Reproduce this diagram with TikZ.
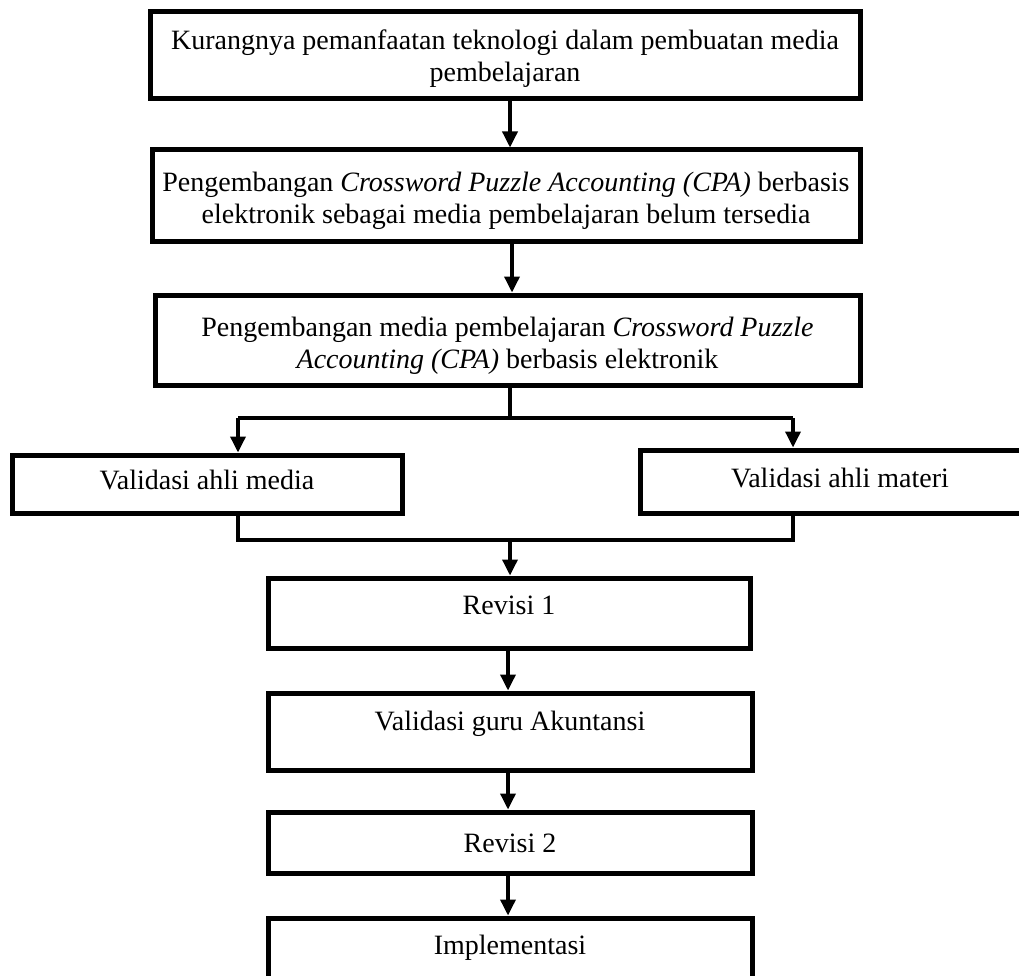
\documentclass[tikz,border=0pt]{standalone}
\usepackage{fontspec}
\setmainfont{Liberation Serif}
\usetikzlibrary{arrows.meta,calc}
\begin{document}
\begin{tikzpicture}[x=1pt,y=-1pt,
  box/.style={draw, line width=5pt, inner sep=0pt, align=center,
    font=\fontsize{28}{32}\selectfont},
  onebox/.style={box, text height=25pt},
  conn/.style={line width=3.5pt},
  arr/.style={line width=3.5pt, -{Triangle[width=15pt,length=16pt]}}]
\useasboundingbox (0,0) rectangle (1019,976);
\fill[white] (0,0) rectangle (1019,976);

\node[box, minimum width=710pt, minimum height=87pt, text height=57pt] (b1) at (505,55.5)
  {Kurangnya pemanfaatan teknologi dalam pembuatan media\\pembelajaran};
\node[box, minimum width=708pt, minimum height=92pt, text height=61pt] (b2) at (506,196)
  {Pengembangan \textit{Crossword Puzzle Accounting (CPA)} berbasis\\elektronik sebagai media pembelajaran belum tersedia};
\node[box, minimum width=705pt, minimum height=90pt, text height=62pt] (b3) at (507.5,340)
  {Pengembangan media pembelajaran \textit{Crossword Puzzle}\\\textit{Accounting (CPA)} berbasis elektronik};
\node[onebox, minimum width=390pt, minimum height=58pt, text depth=14pt] (vl) at (207,484)
  {Validasi ahli media};
\node[onebox, minimum width=400pt, minimum height=63pt, text depth=13pt] (vr) at (840,481.5)
  {Validasi ahli materi};
\node[onebox, minimum width=482pt, minimum height=70pt, text depth=22pt] (r1) at (509,613)
  {Revisi 1};
\node[onebox, minimum width=484pt, minimum height=77pt, text depth=28pt] (vg) at (510,731.5)
  {Validasi guru Akuntansi};
\node[onebox, minimum width=484pt, minimum height=61pt, text depth=6pt] (r2) at (510,842.5)
  {Revisi 2};
\node[onebox, minimum width=484pt, minimum height=82pt, text depth=34pt] (im) at (510,959)
  {Implementasi};

\coordinate (sp) at (510,418);
\coordinate (jl) at (238,418);
\coordinate (jr) at (793,418);
\coordinate (mg) at (510,540);
\coordinate (ml) at (238,540);
\coordinate (mr) at (793,540);

\draw[arr] ($(b1.south)+(5,0)$) -- ($(b2.north)+(4,0)$);
\draw[arr] ($(b2.south)+(6,0)$) -- ($(b3.north)+(4.5,0)$);
\draw[conn] (b3.south -| sp) -- (sp);
\draw[conn] (jl) -- (jr);
\draw[arr] (jl) -- (jl |- vl.north);
\draw[arr] (jr) -- (jr |- vr.north);
\draw[conn] (ml |- vl.south) -- (ml) -- (mr) -- (mr |- vr.south);
\draw[arr] (mg) -- (mg |- r1.north);
\draw[arr] ($(r1.south)+(-1,0)$) -- ($(vg.north)+(-2,0)$);
\draw[arr] ($(vg.south)+(-2,0)$) -- ($(r2.north)+(-2,0)$);
\draw[arr] ($(r2.south)+(-2,0)$) -- ($(im.north)+(-2,0)$);
\end{tikzpicture}
\end{document}
